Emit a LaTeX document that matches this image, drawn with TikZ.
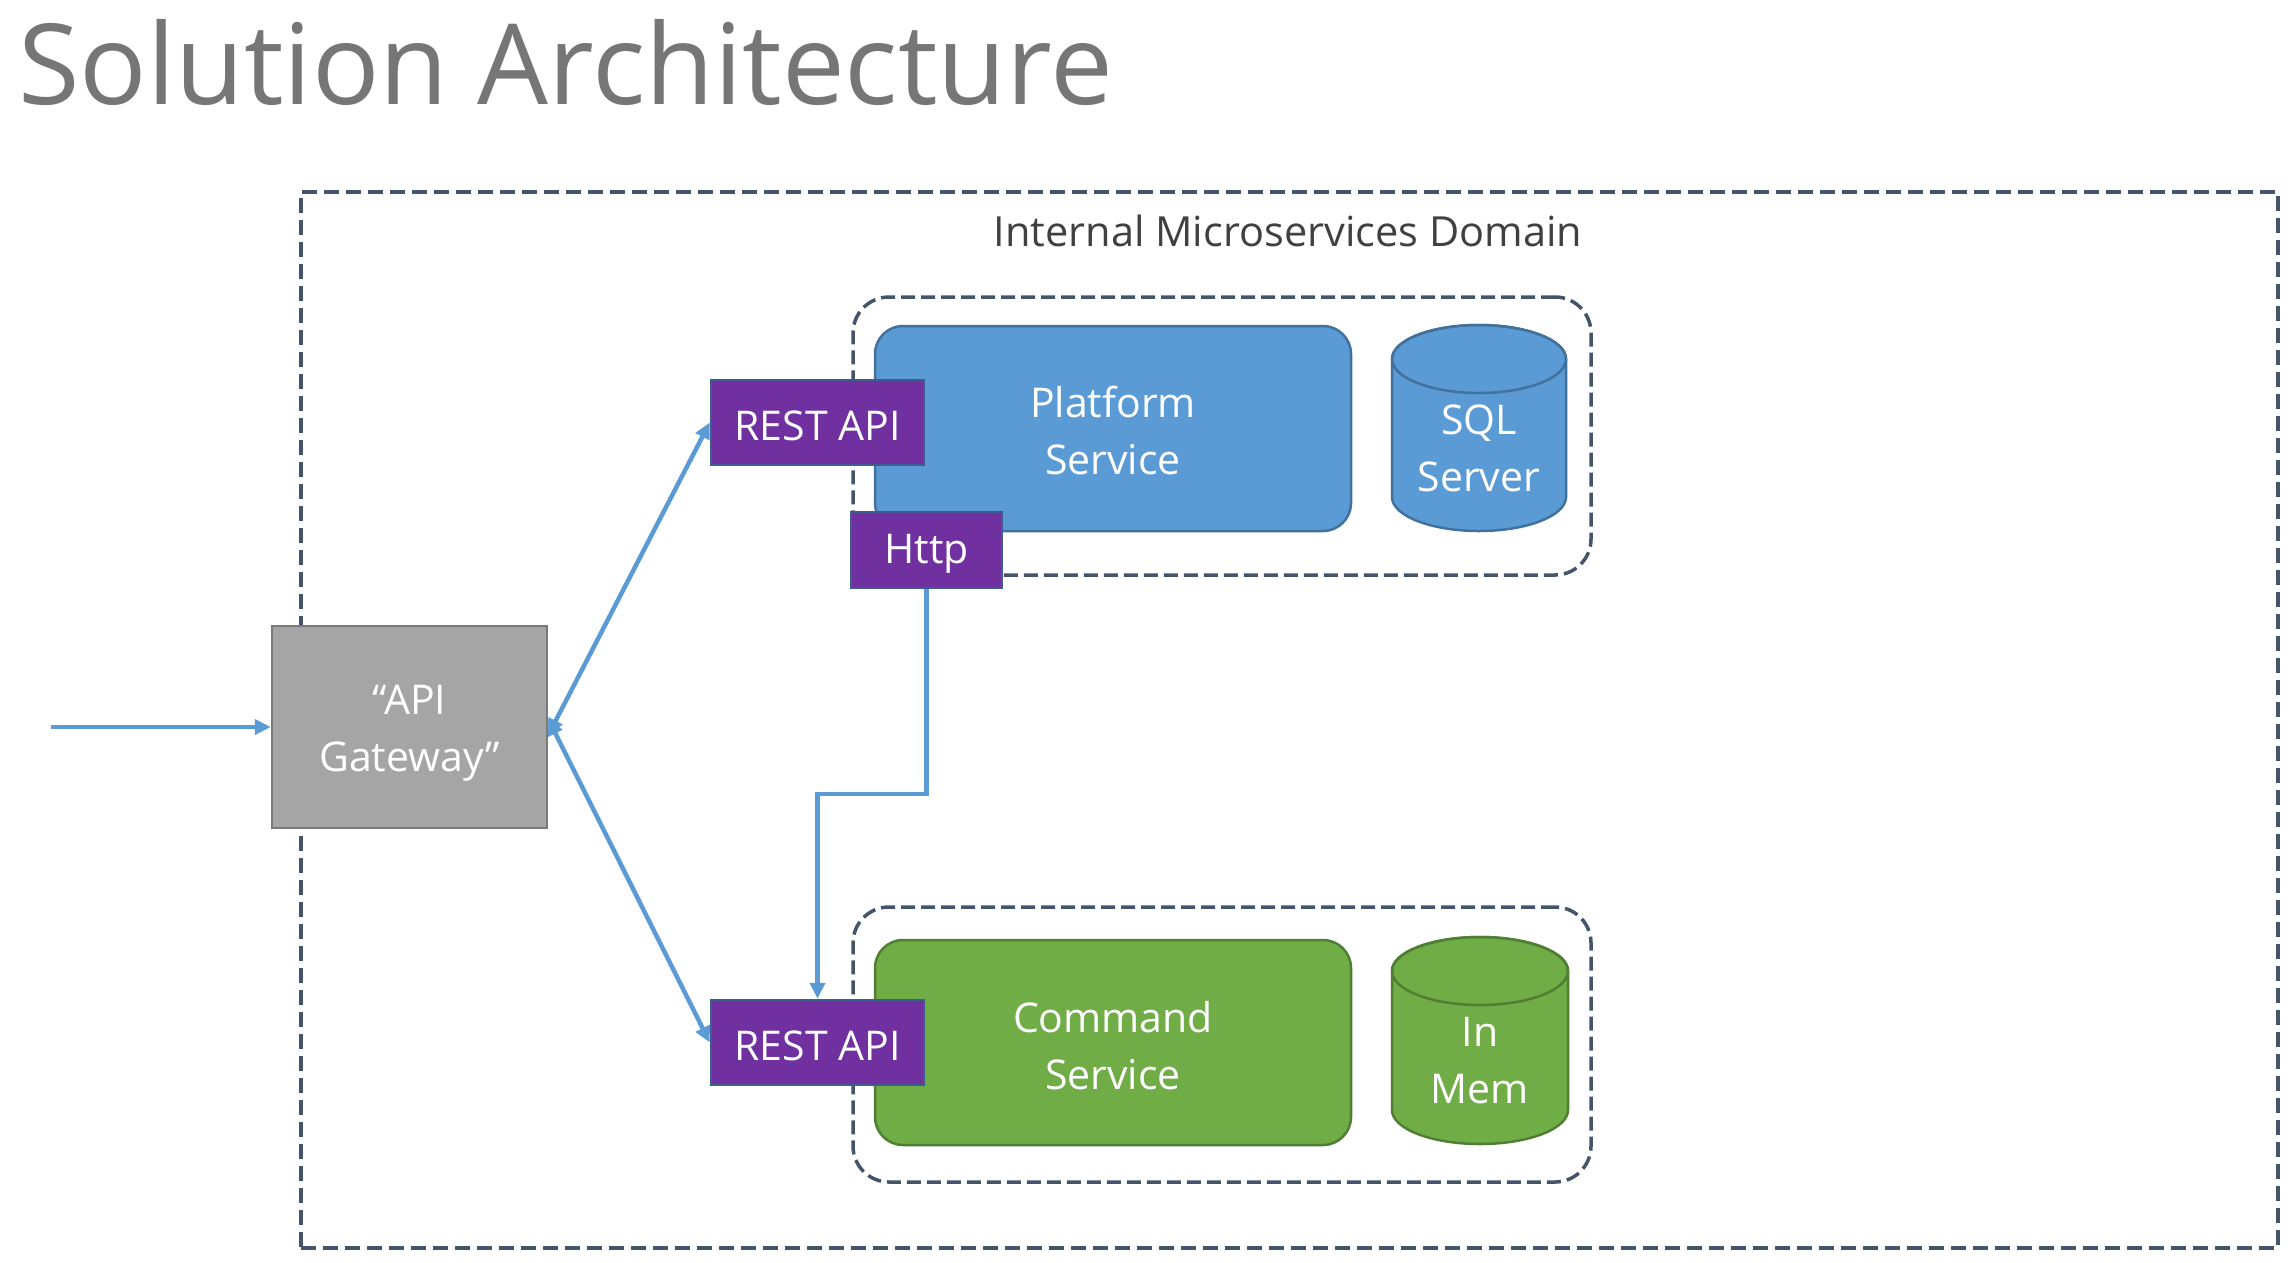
\documentclass[tikz,border=0pt]{standalone}
\usepackage{fontspec}
\setmainfont{Open Sans}
\usetikzlibrary{arrows.meta}

\definecolor{titlegray}{HTML}{767676}
\definecolor{labelgray}{HTML}{404040}
\definecolor{dashslate}{HTML}{44546A}
\definecolor{connblue}{HTML}{5B9BD5}
\definecolor{svcblue}{HTML}{5B9BD5}
\definecolor{svcblueedge}{HTML}{41719C}
\definecolor{svcgreen}{HTML}{70AD47}
\definecolor{svcgreenedge}{HTML}{507E32}
\definecolor{apipurple}{HTML}{7030A0}
\definecolor{apipurpleedge}{HTML}{3E5C91}
\definecolor{gwgray}{HTML}{A5A5A5}
\definecolor{gwgrayedge}{HTML}{7A7A7A}

\tikzset{
  outerdomain/.style={draw=dashslate, line width=4pt, dash pattern=on 15pt off 7pt},
  svcdomain/.style={draw=dashslate, line width=3.5pt, dash pattern=on 14pt off 6pt, rounded corners=36pt},
  boxtext/.style={text=white, align=center, font=\fontsize{41}{57}\selectfont},
  svcbox/.style={boxtext, rounded corners=28pt, line width=2.5pt},
  apibox/.style={boxtext, fill=apipurple, draw=apipurpleedge, line width=2.5pt, inner sep=0pt},
  conn/.style={draw=connblue, line width=4.5pt},
  tip/.tip={Triangle[length=16pt,width=15pt]},
}

\begin{document}
\begin{tikzpicture}[x=1pt,y=-1pt]
\useasboundingbox (0,0) rectangle (2293,1262);

% heading
\node[anchor=base west, inner sep=0pt, text=titlegray,
      font=\fontsize{112}{112}\selectfont] (title) at (18,104) {Solution Architecture};

% internal domain frame and its caption
\node[outerdomain, minimum width=1977pt, minimum height=1056pt, inner sep=0pt] (internal) at (1289.5,720) {};
\node[anchor=base, inner sep=0pt, text=labelgray,
      font=\fontsize{41.5}{41.5}\selectfont] (internallabel) at (1288,246) {Internal Microservices Domain};

% platform service group
\node[svcdomain, minimum width=738pt, minimum height=278pt, inner sep=0pt] (pdom) at (1222,436) {};
\node[svcbox, fill=svcblue, draw=svcblueedge, minimum width=476pt, minimum height=205pt, inner sep=0pt]
  (platform) at (1113,428.5) {};
\node[boxtext, inner sep=0pt] (platformtext) at (1113,431) {Platform\\Service};
\fill[svcblue, draw=svcblueedge, line width=2.5pt]
  (1392,359) -- (1392,497) arc[start angle=180, end angle=360, x radius=87pt, y radius=34pt]
  -- (1566,359) arc[start angle=0, end angle=180, x radius=87pt, y radius=34pt] -- cycle;
\draw[svcblueedge, line width=2.5pt] (1479,359) ellipse[x radius=87pt, y radius=34pt];
\node[boxtext, inner sep=0pt] (sql) at (1479,448) {SQL\\Server};

% command service group
\node[svcdomain, minimum width=738pt, minimum height=275pt, inner sep=0pt] (cdom) at (1222,1044.5) {};
\node[svcbox, fill=svcgreen, draw=svcgreenedge, minimum width=476pt, minimum height=205pt, inner sep=0pt]
  (command) at (1113,1042.5) {};
\node[boxtext, inner sep=0pt] (commandtext) at (1113,1046) {Command\\Service};
\fill[svcgreen, draw=svcgreenedge, line width=2.5pt]
  (1392,971) -- (1392,1110) arc[start angle=180, end angle=360, x radius=88pt, y radius=34pt]
  -- (1568,971) arc[start angle=0, end angle=180, x radius=88pt, y radius=34pt] -- cycle;
\draw[svcgreenedge, line width=2.5pt] (1480,971) ellipse[x radius=88pt, y radius=34pt];
\node[boxtext, inner sep=0pt] (inmem) at (1480,1061) {In\\Mem};

% API endpoints
\node[apibox, minimum width=213pt, minimum height=85pt] (restA) at (817.5,422.5) {};
\node[boxtext, inner sep=0pt] (restAtext) at (817.5,425.5) {REST API};
\node[apibox, minimum width=151pt, minimum height=76pt] (http) at (926.5,550) {};
\node[boxtext, inner sep=0pt] (httptext) at (926.5,554) {Http};
\node[apibox, minimum width=213pt, minimum height=85pt] (restB) at (817.5,1042.5) {};
\node[boxtext, inner sep=0pt] (restBtext) at (817.5,1045.5) {REST API};

% gateway
\node[fill=gwgray, draw=gwgrayedge, line width=2.5pt, inner sep=0pt,
      minimum width=275pt, minimum height=202pt] (gw) at (409.5,727) {};
\node[boxtext, inner sep=0pt] (gwtext) at (409.5,733) {“API\\Gateway”};

% connectors
\coordinate (src) at (51,727);
\coordinate (bend) at (926.5,794);
\draw[conn, -tip] (src) -- (gw.west);
\draw[conn, tip-tip] ([yshift=-8pt]gw.east) -- (restA.west);
\draw[conn, tip-tip] ([yshift=8pt]gw.east) -- (restB.west);
\draw[conn, -tip] (http.south) -- (bend) -| (restB.north);
\end{tikzpicture}
\end{document}
